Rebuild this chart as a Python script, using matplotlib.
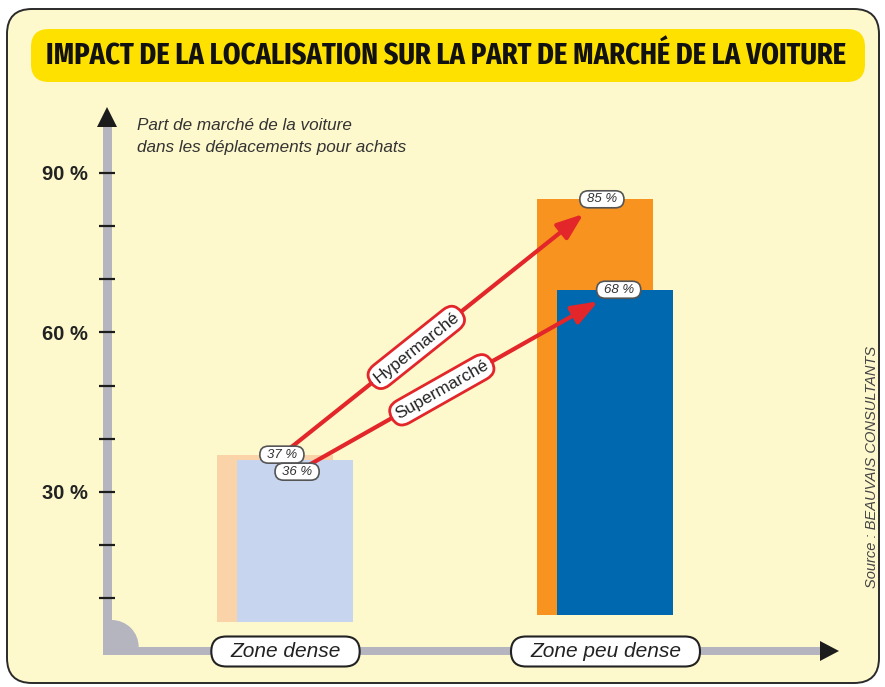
from matplotlib import pyplot as plt
from matplotlib import font_manager
from matplotlib.patches import FancyBboxPatch, Rectangle, Wedge, Polygon
import numpy as np

# data
zones = ['Zone dense', 'Zone peu dense']
hyper = [37, 85]          # part de marché voiture, hypermarché
superm = [36, 68]         # part de marché voiture, supermarché
base = [5.6, 6.8]         # bars start slightly above the axis
yticks = [10, 20, 30, 40, 50, 60, 70, 80, 90]
ytick_labels = ['', '', '30 %', '', '', '60 %', '', '', '90 %']
title = 'IMPACT DE LA LOCALISATION SUR LA PART DE MARCHÉ DE LA VOITURE'
ytitle = 'Part de marché de la voiture\ndans les déplacements pour achats'
source = 'Source : BEAUVAIS CONSULTANTS'

hyper_colors = ['#fad3a8', '#f7931e']
super_colors = ['#c7d6ee', '#0068ae']
red = '#e2262a'
grey = '#b5b5c0'
ink = '#1c1c1c'

names = {f.name for f in font_manager.fontManager.ttflist}
narrow = 'DejaVu Sans'
for cand in ['Fira Sans Extra Condensed', 'Sofia Sans Extra Condensed', 'Roboto Condensed']:
    if cand in names:
        narrow = cand
        break
sans = 'Liberation Sans' if 'Liberation Sans' in names else 'DejaVu Sans'
plt.rcParams['font.family'] = [sans, 'DejaVu Sans']

W, H = 885, 687
fig = plt.figure(figsize=(W / 100, H / 100), dpi=100)
fig.patch.set_facecolor('white')

# background / decoration axes in pixel units
bg = fig.add_axes([0, 0, 1, 1])
bg.set_xlim(0, W)
bg.set_ylim(H, 0)
bg.axis('off')

bg.add_patch(FancyBboxPatch((7, 9), 872, 674, boxstyle='round,pad=0,rounding_size=25',
                            fc='#fef9cc', ec='#2a2a2a', lw=1.4))
bg.add_patch(FancyBboxPatch((31, 29), 834, 53, boxstyle='round,pad=0,rounding_size=18',
                            fc='#ffe100', ec='none'))

# axis lines with arrows and rounded corner
bg.add_patch(Rectangle((102.7, 122), 9, 533, fc=grey, ec='none'))
bg.add_patch(Rectangle((102.7, 647), 718, 8, fc=grey, ec='none'))
bg.add_patch(Wedge((111.7, 647), 27, 270, 360, fc=grey, ec='none'))
bg.add_patch(Polygon([(97, 127), (117, 127), (107, 107)], fc=ink, ec='none'))
bg.add_patch(Polygon([(820, 641), (820, 661), (839, 651)], fc=ink, ec='none'))

renderer = fig.canvas.get_renderer()
t = bg.text(446, 56, title, ha='center', va='center', fontsize=24,
            fontweight='bold', family=[narrow, 'DejaVu Sans'], color='#111111')
w = t.get_window_extent(renderer).width
t.set_fontsize(24 * 800 / w)

bg.text(137, 118, ytitle, ha='left', va='top', fontsize=12.3, style='italic',
        color='#333333', linespacing=1.55)
bg.text(872, 467, source, ha='center', va='center', rotation=90, fontsize=10.5,
        style='italic', color='#444444')

# data axes
ax = fig.add_axes([107 / W, 35.5 / H, 723 / W, 532 / H])
ax.set_facecolor('none')
for s in ax.spines.values():
    s.set_visible(False)
ax.set_ylim(0, 100)
ax.set_xlim(-0.5578, 1.7016)

x = np.arange(len(zones))
width, off = 0.3625, 0.03125
hb = np.array(hyper) - np.array(base)
sb = np.array(superm) - np.array(base)
ax.bar(x - off, hb, width, bottom=base, color=hyper_colors, zorder=2)
ax.bar(x + off, sb, width, bottom=base, color=super_colors, zorder=3)

ax.set_xticks([])
ax.set_yticks(yticks, ytick_labels)
ax.tick_params(axis='y', direction='inout', length=11.5, width=1.6, color=ink,
               pad=8, labelsize=14.5, labelcolor='#222222')
for lab in ax.get_yticklabels():
    lab.set_fontweight('bold')


def pill(txt, hpad, height, ec, lw, z):
    bb = txt.get_window_extent(renderer)
    inv = bg.transData.inverted()
    (x0, y1), (x1, y0) = inv.transform([(bb.x0, bb.y0), (bb.x1, bb.y1)])
    cy = (y0 + y1) / 2
    p = FancyBboxPatch((x0 - hpad, cy - height / 2), (x1 - x0) + 2 * hpad, height,
                       boxstyle='round,pad=0,rounding_size=%f' % (height / 2),
                       fc='white', ec=ec, lw=lw, transform=bg.transData,
                       zorder=z, clip_on=False)
    ax.add_patch(p)


# category labels on the x axis
for i, z in enumerate(zones):
    tx = ax.text(x[i], 0, z, ha='center', va='center', fontsize=15, style='italic',
                 color='#222222', zorder=8, clip_on=False)
    pill(tx, 19, 30, '#222222', 1.5, 7)

# value labels and arrows
hyp_pos = [(x[0] - off + 0.02, hyper[0]), (x[1] - off + 0.02, hyper[1])]
sup_pos = [(x[0] + off + 0.005, superm[0] - 2.2), (x[1] + off + 0.01, superm[1])]

for pos, name, tpos in [(hyp_pos, 'Hypermarché', 0.42), (sup_pos, 'Supermarché', 0.45)]:
    (x0, y0), (x1, y1) = pos
    ax.annotate('', xy=(x1, y1), xytext=(x0, y0),
                arrowprops=dict(arrowstyle='-|>,head_length=0.8,head_width=0.3',
                                color=red, lw=3, shrinkA=0, shrinkB=17,
                                mutation_scale=20), zorder=4)
    p0 = ax.transData.transform((x0, y0))
    p1 = ax.transData.transform((x1, y1))
    ang = np.degrees(np.arctan2(p1[1] - p0[1], p1[0] - p0[0]))
    ax.text(x0 + tpos * (x1 - x0), y0 + tpos * (y1 - y0), name, rotation=ang,
            rotation_mode='anchor', ha='center', va='center', fontsize=12.5,
            color='#222222', zorder=6,
            bbox=dict(boxstyle='round,pad=0.3,rounding_size=0.75', fc='white',
                      ec=red, lw=2))

for (px, py), v in zip(hyp_pos + sup_pos, hyper + superm):
    tx = ax.text(px, py, '%d %%' % v, ha='center', va='center', fontsize=9.5,
                 style='italic', color='#333333', zorder=9)
    pill(tx, 7, 17, '#555555', 1.2, 8)

fig.savefig('out.png', dpi=100)
